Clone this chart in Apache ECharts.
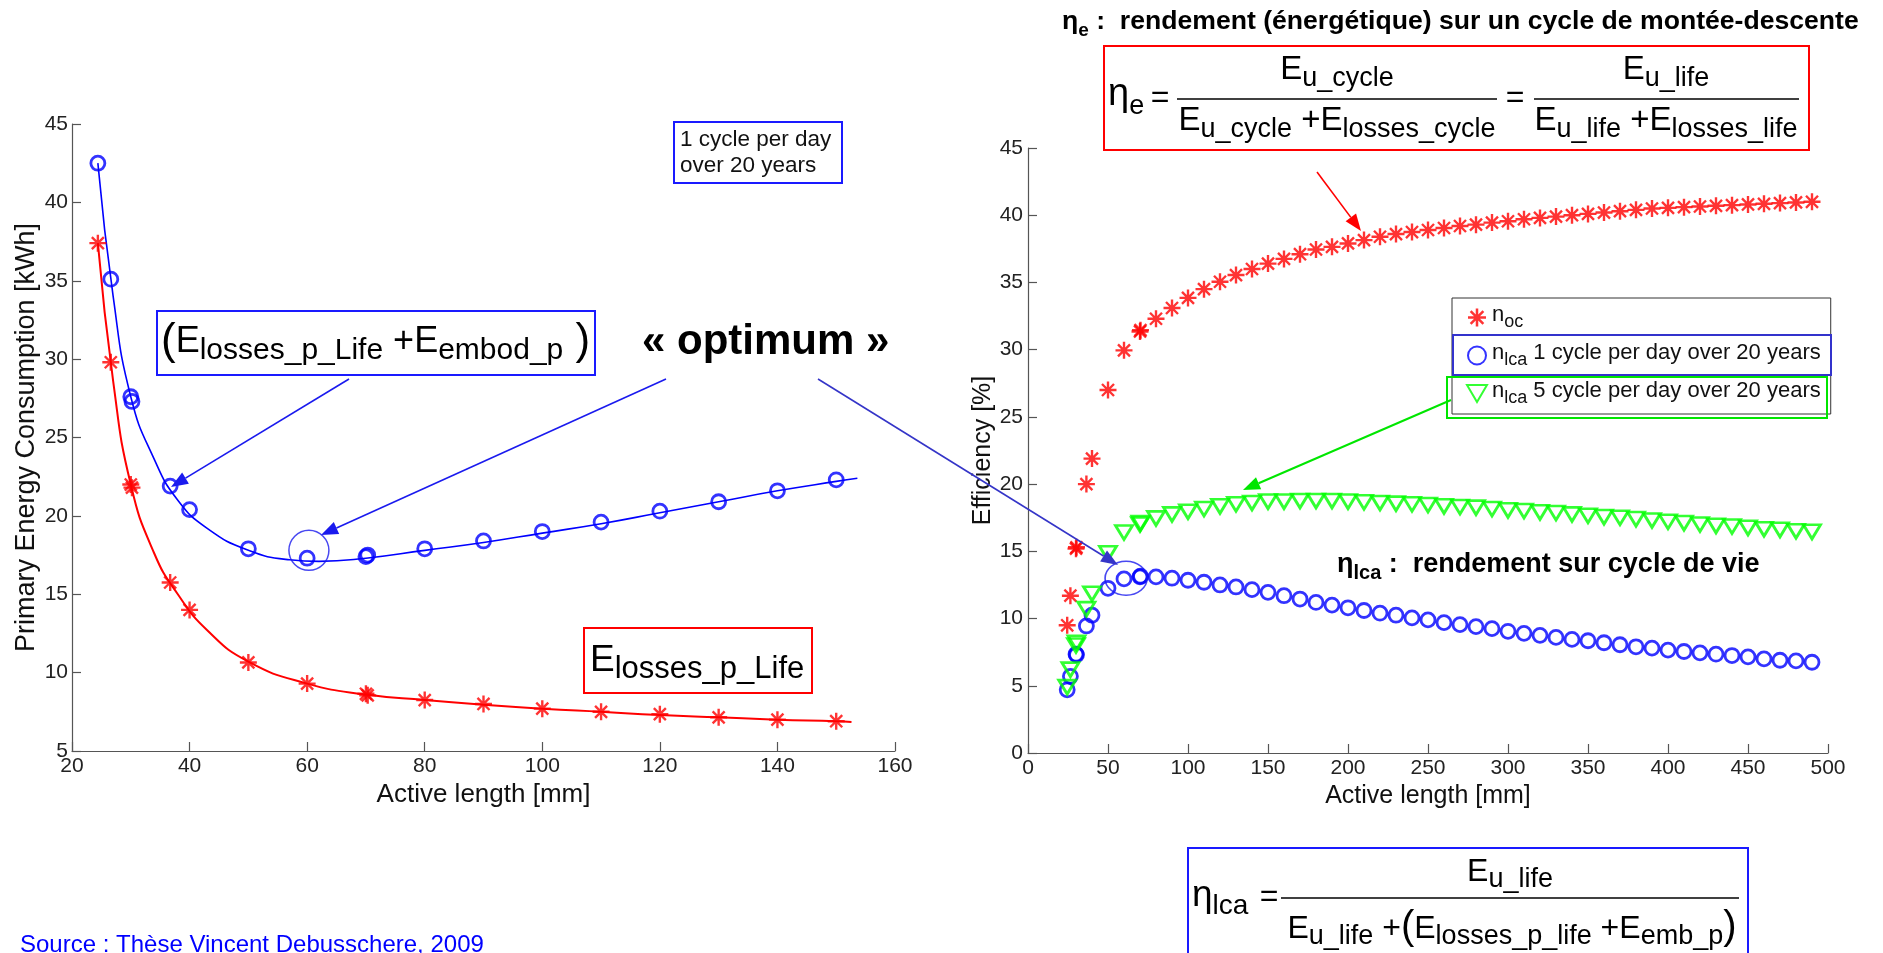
<!DOCTYPE html>
<html>
<head>
<meta charset="utf-8">
<script src="https://cdn.jsdelivr.net/npm/echarts@6/dist/echarts.min.js"></script>
<style>html,body{margin:0;padding:0;background:#fff}#c{width:1883px;height:953px}</style>
</head>
<body>
<div id="c"></div>
<script>
const FONT = "'Liberation Sans', Arial, Helvetica, sans-serif";

// ---------- Left chart: primary energy consumption vs active length ----------
const lengthL = [24.4, 26.6, 30.0, 30.2, 36.7, 40, 50, 60, 70, 70.3, 80, 90, 100, 110, 120, 130, 140, 150];
const totalL  = [42.5, 35.1, 27.6, 27.3, 21.9, 20.4, 17.9, 17.3, 17.4, 17.5, 17.9, 18.4, 19.0, 19.6, 20.3, 20.9, 21.6, 22.3];
const lossL   = [37.4, 29.8, 22.0, 21.8, 15.75, 14.0, 10.65, 9.3, 8.65, 8.55, 8.25, 8.0, 7.7, 7.5, 7.35, 7.15, 7.0, 6.9];
// fitted curves
const fitTotalX = [24.4, 27, 30, 34, 38, 43, 50, 57, 62, 70, 80, 90, 100, 110, 120, 130, 140, 150, 153.6];
const fitTotalY = [42.5, 34.0, 27.6, 23.6, 21.0, 19.2, 17.8, 17.2, 17.1, 17.3, 17.8, 18.3, 18.9, 19.5, 20.2, 20.9, 21.6, 22.2, 22.4];
const fitLossX  = [24.4, 27, 30, 34, 38, 43, 50, 60, 70, 80, 90, 100, 110, 120, 130, 140, 150, 152.6];
const fitLossY  = [37.4, 28.6, 22.0, 17.6, 15.0, 12.7, 10.7, 9.3, 8.6, 8.25, 7.95, 7.7, 7.5, 7.3, 7.15, 7.0, 6.9, 6.85];
const optimumL = [60.3, 17.8];
const xRangeL = [20, 160, 20];
const yRangeL = [5, 45, 5];

// ---------- Right chart: efficiency vs active length ----------
const lengthR = [24.5, 26.5, 30, 30.3, 36.5, 40, 50, 60, 70, 70.3, 80, 90, 100, 110, 120, 130, 140, 150, 160, 170, 180, 190, 200, 210, 220, 230, 240, 250, 260, 270, 280, 290, 300, 310, 320, 330, 340, 350, 360, 370, 380, 390, 400, 410, 420, 430, 440, 450, 460, 470, 480, 490];
const etaOC   = [9.5, 11.7, 15.2, 15.3, 20.0, 21.9, 27.0, 29.95, 31.35, 31.45, 32.3, 33.1, 33.85, 34.5, 35.05, 35.55, 36.0, 36.4, 36.75, 37.1, 37.45, 37.65, 37.9, 38.15, 38.4, 38.6, 38.75, 38.9, 39.05, 39.2, 39.3, 39.45, 39.55, 39.7, 39.8, 39.9, 40.0, 40.1, 40.2, 40.3, 40.4, 40.5, 40.55, 40.6, 40.65, 40.7, 40.75, 40.8, 40.85, 40.9, 40.95, 41.0];
const etaLCA1 = [4.7, 5.7, 7.35, 7.3, 9.45, 10.25, 12.25, 12.95, 13.1, 13.15, 13.1, 13.0, 12.85, 12.7, 12.5, 12.35, 12.15, 11.95, 11.7, 11.45, 11.2, 11.0, 10.8, 10.6, 10.4, 10.25, 10.05, 9.9, 9.7, 9.55, 9.4, 9.25, 9.05, 8.9, 8.75, 8.6, 8.45, 8.35, 8.2, 8.05, 7.9, 7.8, 7.65, 7.55, 7.45, 7.35, 7.25, 7.15, 7.0, 6.9, 6.85, 6.75];
const etaLCA5 = [4.9, 6.2, 8.0, 8.2, 10.7, 11.85, 14.85, 16.4, 17.0, 17.1, 17.45, 17.75, 17.95, 18.15, 18.35, 18.5, 18.6, 18.7, 18.7, 18.75, 18.75, 18.75, 18.7, 18.65, 18.6, 18.55, 18.5, 18.45, 18.35, 18.3, 18.25, 18.15, 18.05, 18.0, 17.9, 17.85, 17.75, 17.65, 17.55, 17.5, 17.4, 17.3, 17.2, 17.1, 17.0, 16.9, 16.85, 16.75, 16.65, 16.6, 16.5, 16.45];
const optimumR = [61.3, 13.0];
const xRangeR = [0, 500, 50];
const yRangeR = [0, 45, 5];

const zip = (xs, ys) => xs.map((x, i) => [x, ys[i]]);

const STAR = 'path://M43 0L57 0L57 100L43 100Z M0 43L100 43L100 57L0 57Z M19.6 9.7L90.3 80.4L80.4 90.3L9.7 19.6Z M80.4 9.7L90.3 19.6L19.6 90.3L9.7 80.4Z';
const TRI_DOWN = 'path://M0 0L100 0L50 86Z';

function axisCommon(range, name, nameGap, nameSize, gridIndex, labelMargin) {
  return {
    type: 'value', gridIndex, min: range[0], max: range[1], interval: range[2],
    name, nameLocation: 'middle', nameGap,
    nameTextStyle: { fontFamily: FONT, fontSize: nameSize, color: '#111' },
    axisLine: { show: true, onZero: false, lineStyle: { color: '#555', width: 1.2 } },
    axisTick: { show: true, inside: true, length: 9, lineStyle: { color: '#555', width: 1.2 } },
    axisLabel: { fontFamily: FONT, fontSize: 21, color: '#222', margin: labelMargin },
    splitLine: { show: false }
  };
}

// ---------- annotation helpers ----------
const G = [];
function arrow(x1, y1, x2, y2, color, lw) {
  const a = Math.atan2(y2 - y1, x2 - x1), L = 17, W = 6.5;
  const bx = x2 - L * Math.cos(a), by = y2 - L * Math.sin(a);
  const nx = -Math.sin(a), ny = Math.cos(a);
  G.push({ type: 'line', z: 60, shape: { x1, y1, x2: bx, y2: by }, style: { stroke: color, lineWidth: lw } });
  G.push({ type: 'polygon', z: 60, shape: { points: [[x2, y2], [bx + nx * W, by + ny * W], [bx - nx * W, by - ny * W]] }, style: { fill: color } });
}
function rect(x, y, w, h, stroke, lw, fill) {
  G.push({ type: 'rect', z: 55, shape: { x, y, width: w, height: h }, style: { stroke, lineWidth: lw, fill: fill || 'none' } });
}
function text(x, y, str, style) {
  G.push({ type: 'text', z: 65, x, y, style: Object.assign({ text: str, fill: '#000', fontFamily: FONT }, style) });
}
function richF(E, s, bold, pSize) {
  const fw = bold ? 'bold' : 'normal';
  return {
    E: { fontSize: E, fontFamily: FONT, fontWeight: fw, padding: [0, 0, Math.round(E * 0.17), 0], verticalAlign: 'bottom' },
    s: { fontSize: s, fontFamily: FONT, fontWeight: fw, verticalAlign: 'bottom' },
    p: { fontSize: pSize || Math.round(E * 1.35), fontFamily: FONT, fontWeight: 'normal', padding: [0, 0, Math.round(E * 0.05), 0], verticalAlign: 'bottom' }
  };
}

// top title
text(1062, 40, '{E|η}{s|e}{E| :  rendement (énergétique) sur un cycle de montée-descente}', {
  align: 'left', verticalAlign: 'bottom', rich: richF(26.6, 19, true)
});
// red formula box
rect(1104, 46, 705, 104, '#ff0000', 2, '#fff');
const rf = richF(33, 27, false);
text(1108, 120, '{E|η}{s|e}', { align: 'left', verticalAlign: 'bottom', rich: richF(38, 27, false) });
text(1160, 98, '=', { align: 'center', verticalAlign: 'middle', fontSize: 32 });
G.push({ type: 'line', z: 60, shape: { x1: 1177, y1: 99, x2: 1497, y2: 99 }, style: { stroke: '#000', lineWidth: 1.5 } });
text(1337, 92, '{E|E}{s|u_cycle}', { align: 'center', verticalAlign: 'bottom', rich: rf });
text(1337, 143, '{E|E}{s|u_cycle}{E| +E}{s|losses_cycle}', { align: 'center', verticalAlign: 'bottom', rich: rf });
text(1515, 98, '=', { align: 'center', verticalAlign: 'middle', fontSize: 32 });
G.push({ type: 'line', z: 60, shape: { x1: 1534, y1: 99, x2: 1799, y2: 99 }, style: { stroke: '#000', lineWidth: 1.5 } });
text(1666, 92, '{E|E}{s|u_life}', { align: 'center', verticalAlign: 'bottom', rich: rf });
text(1666, 143, '{E|E}{s|u_life}{E| +E}{s|losses_life}', { align: 'center', verticalAlign: 'bottom', rich: rf });

// bottom formula box
rect(1188, 848, 560, 120, '#1a1aff', 2, '#fff');
const bf = richF(32, 27, false, 40);
text(1192, 920, '{E|η}{s|lca}', { align: 'left', verticalAlign: 'bottom', rich: richF(37, 28, false) });
text(1269, 897, '=', { align: 'center', verticalAlign: 'middle', fontSize: 32 });
G.push({ type: 'line', z: 60, shape: { x1: 1281, y1: 898, x2: 1739, y2: 898 }, style: { stroke: '#000', lineWidth: 1.5 } });
text(1510, 893, '{E|E}{s|u_life}', { align: 'center', verticalAlign: 'bottom', rich: bf });
text(1512, 950, '{E|E}{s|u_life}{E| +}{p|(}{E|E}{s|losses_p_life}{E| +E}{s|emb_p}{p|)}', { align: 'center', verticalAlign: 'bottom', rich: bf });

// left annotations
rect(157, 311, 438, 64, '#1a1aff', 2, '#fff');
text(161, 366, '{p|(}{E|E}{s|losses_p_Life}{E| +E}{s|embod_p}{p| )}', { align: 'left', verticalAlign: 'bottom', rich: richF(36, 30, false, 44) });
rect(584, 628, 228, 65, '#ff0000', 2, '#fff');
text(590, 685, '{E|E}{s|losses_p_Life}', { align: 'left', verticalAlign: 'bottom', rich: richF(37, 31, false) });
rect(674, 122, 168, 61, '#1a1aff', 2, '#fff');
text(680, 153, '1 cycle per day\nover 20 years', { align: 'left', verticalAlign: 'middle', fontSize: 22.5, lineHeight: 26, fill: '#111' });
text(642, 342, '« optimum »', { align: 'left', verticalAlign: 'middle', fontSize: 42, fontWeight: 'bold' });

// right annotation
text(1337, 583, '{E|η}{s|lca}{E| :  rendement sur cycle de vie}', { align: 'left', verticalAlign: 'bottom', rich: richF(27, 20, true) });

// source
text(20, 945, 'Source : Thèse Vincent Debusschere, 2009', { align: 'left', verticalAlign: 'middle', fontSize: 24, fill: '#0000ff' });

// arrows
arrow(349, 379, 171, 487, '#1a1aee', 1.6);
arrow(666, 379, 321, 535, '#1a1aee', 1.6);
arrow(818, 379, 1118, 565, '#3535c8', 1.6);
arrow(1317, 172, 1361, 231, '#ff0000', 1.6);
arrow(1451, 400, 1243, 490, '#00e600', 2);

// legend highlight boxes
rect(1453, 335, 378, 40, '#3333cc', 2);
rect(1447, 377, 380, 41, '#00e600', 2);

const chart = echarts.init(document.getElementById('c'));
chart.setOption({
  backgroundColor: '#fff',
  animation: false,
  grid: [
    { left: 72, top: 124, width: 823, height: 627, containLabel: false },
    { left: 1028, top: 148, width: 800, height: 605, containLabel: false }
  ],
  xAxis: [
    axisCommon(xRangeL, 'Active length [mm]', 27, 26, 0, 5),
    axisCommon(xRangeR, 'Active length [mm]', 27, 25, 1, 5)
  ],
  yAxis: [
    axisCommon(yRangeL, 'Primary Energy Consumption [kWh]', 32, 27, 0, 4),
    axisCommon(yRangeR, 'Efficiency [%]', 32, 25, 1, 5)
  ],
  legend: {
    data: ['noc', 'lca1', 'lca5'],
    orient: 'vertical', left: 1452, top: 298,
    itemWidth: 20, itemHeight: 18, itemGap: 11,
    padding: [6, 10, 7, 14],
    borderColor: '#333', borderWidth: 1, backgroundColor: '#fff',
    selectedMode: false, z: 50,
    formatter: n => ({
      noc: '{n|n}{s|oc}',
      lca1: '{n|n}{s|lca}{n| 1 cycle per day over 20 years}',
      lca5: '{n|n}{s|lca}{n| 5 cycle per day over 20 years}'
    })[n],
    textStyle: {
      color: '#111', fontFamily: FONT, fontSize: 22,
      rich: {
        n: { fontSize: 22, fontFamily: FONT, color: '#111', padding: [0, 0, 5, 0], verticalAlign: 'bottom' },
        s: { fontSize: 18, fontFamily: FONT, color: '#111', verticalAlign: 'bottom' }
      }
    }
  },
  series: [
    { type: 'line', name: 'fitTotal', xAxisIndex: 0, yAxisIndex: 0, data: zip(fitTotalX, fitTotalY),
      smooth: 0.5, showSymbol: false, lineStyle: { color: '#0000ff', width: 1.6 }, z: 2 },
    { type: 'line', name: 'fitLoss', xAxisIndex: 0, yAxisIndex: 0, data: zip(fitLossX, fitLossY),
      smooth: 0.5, showSymbol: false, lineStyle: { color: '#ff0000', width: 2 }, z: 2 },
    { type: 'scatter', name: 'totalL', xAxisIndex: 0, yAxisIndex: 0, data: zip(lengthL, totalL),
      symbol: 'circle', symbolSize: 14, itemStyle: { color: 'rgba(0,0,0,0)', borderColor: '#0000ff', borderWidth: 2.8 }, z: 3 },
    { type: 'scatter', name: 'lossL', xAxisIndex: 0, yAxisIndex: 0, data: zip(lengthL, lossL),
      symbol: STAR, symbolSize: 17, itemStyle: { color: '#ff0000' }, z: 3 },
    { type: 'scatter', name: 'optL', xAxisIndex: 0, yAxisIndex: 0, data: [optimumL],
      symbol: 'circle', symbolSize: 40, itemStyle: { color: 'rgba(0,0,0,0)', borderColor: '#1a1aee', borderWidth: 1.5 }, z: 3 },
    { type: 'scatter', name: 'noc', xAxisIndex: 1, yAxisIndex: 1, data: zip(lengthR, etaOC),
      symbol: STAR, symbolSize: 17, itemStyle: { color: '#ff0000' }, z: 3 },
    { type: 'scatter', name: 'lca1', xAxisIndex: 1, yAxisIndex: 1, data: zip(lengthR, etaLCA1),
      symbol: 'circle', symbolSize: 14, itemStyle: { color: 'rgba(0,0,0,0)', borderColor: '#0000ff', borderWidth: 2.8 }, z: 3 },
    { type: 'scatter', name: 'lca5', xAxisIndex: 1, yAxisIndex: 1, data: zip(lengthR, etaLCA5),
      symbol: TRI_DOWN, symbolSize: [17, 14], itemStyle: { color: 'rgba(0,0,0,0)', borderColor: '#00ff00', borderWidth: 2.8 }, z: 3 },
    { type: 'scatter', name: 'optR', xAxisIndex: 1, yAxisIndex: 1, data: [optimumR],
      symbol: 'circle', symbolSize: [42, 34], itemStyle: { color: 'rgba(0,0,0,0)', borderColor: '#1a1aee', borderWidth: 1.5 }, z: 3 }
  ],
  graphic: { elements: G }
});
</script>
</body>
</html>
